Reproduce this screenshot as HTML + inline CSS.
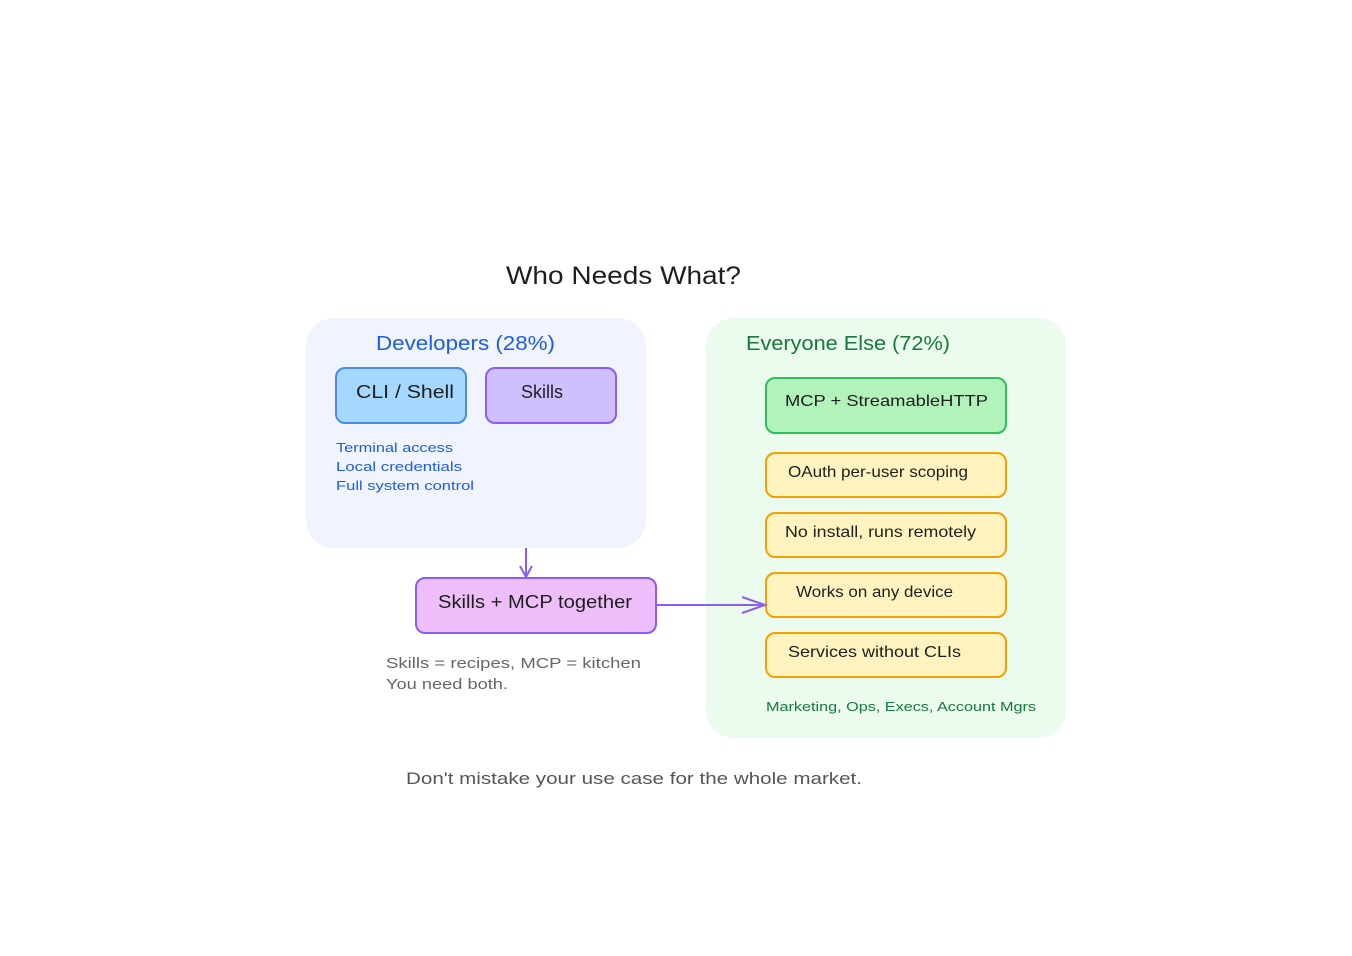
<!DOCTYPE html>
<html><head><meta charset="utf-8"><style>
html,body{margin:0;padding:0;background:#fff}
svg{display:block}
text{font-family:"Liberation Sans",sans-serif}
</style></head><body>
<svg width="1352" height="956" viewBox="0 0 1352 956" xmlns="http://www.w3.org/2000/svg">
<rect width="1352" height="956" fill="#fff"/>
<text x="506" y="284" font-size="25" fill="#1e1e1e" textLength="235" lengthAdjust="spacingAndGlyphs">Who Needs What?</text>

<rect x="306" y="318" width="340" height="230" rx="28" fill="#eff4fe"/>
<text x="376" y="350" font-size="20" fill="#1e5be6" textLength="179" lengthAdjust="spacingAndGlyphs">Developers (28%)</text>
<rect x="336" y="368" width="130" height="55" rx="9" fill="#a5d8ff" stroke="#4a8be8" stroke-width="2"/>
<text x="356" y="398" font-size="18" fill="#1e1e1e" textLength="98" lengthAdjust="spacingAndGlyphs">CLI / Shell</text>
<rect x="486" y="368" width="130" height="55" rx="9" fill="#d0bfff" stroke="#8b5cf6" stroke-width="2"/>
<text x="521" y="398" font-size="18" fill="#1e1e1e" textLength="42" lengthAdjust="spacingAndGlyphs">Skills</text>
<g font-size="13" fill="#1e5be6">
<text x="336" y="452" textLength="117" lengthAdjust="spacingAndGlyphs">Terminal access</text>
<text x="336" y="471" textLength="126" lengthAdjust="spacingAndGlyphs">Local credentials</text>
<text x="336" y="490" textLength="138" lengthAdjust="spacingAndGlyphs">Full system control</text>
</g>

<rect x="706" y="318" width="360" height="420" rx="28" fill="#ebfbee"/>
<text x="746" y="350" font-size="20" fill="#157a3a" textLength="204" lengthAdjust="spacingAndGlyphs">Everyone Else (72%)</text>
<rect x="766" y="378" width="240" height="55" rx="9" fill="#b2f2bb" stroke="#2fbf5b" stroke-width="2"/>
<text x="785" y="406" font-size="16" fill="#1e1e1e" textLength="203" lengthAdjust="spacingAndGlyphs">MCP + StreamableHTTP</text>
<g fill="#fff3bf" stroke="#f59f00" stroke-width="2">
<rect x="766" y="453" width="240" height="44" rx="9"/>
<rect x="766" y="513" width="240" height="44" rx="9"/>
<rect x="766" y="573" width="240" height="44" rx="9"/>
<rect x="766" y="633" width="240" height="44" rx="9"/>
</g>
<g font-size="16" fill="#1e1e1e">
<text x="788" y="477" textLength="180" lengthAdjust="spacingAndGlyphs">OAuth per-user scoping</text>
<text x="785" y="537" textLength="191" lengthAdjust="spacingAndGlyphs">No install, runs remotely</text>
<text x="796" y="597" textLength="157" lengthAdjust="spacingAndGlyphs">Works on any device</text>
<text x="788" y="657" textLength="173" lengthAdjust="spacingAndGlyphs">Services without CLIs</text>
</g>
<text x="766" y="711" font-size="13" fill="#157a3a" textLength="270" lengthAdjust="spacingAndGlyphs">Marketing, Ops, Execs, Account Mgrs</text>

<line x1="526" y1="548" x2="526" y2="576" stroke="#8b5cf6" stroke-width="2"/>
<path d="M520 566 L526 577 L532 566" fill="none" stroke="#8b5cf6" stroke-width="2"/>
<rect x="416" y="578" width="240" height="55" rx="9" fill="#eebefa" stroke="#8b5cf6" stroke-width="2"/>
<text x="438" y="608" font-size="18" fill="#1e1e1e" textLength="194" lengthAdjust="spacingAndGlyphs">Skills + MCP together</text>
<line x1="657" y1="605" x2="764" y2="605" stroke="#8b5cf6" stroke-width="2"/>
<path d="M742 597 L765 605 L742 613" fill="none" stroke="#8b5cf6" stroke-width="2"/>
<g font-size="15" fill="#666">
<text x="386" y="668" textLength="255" lengthAdjust="spacingAndGlyphs">Skills = recipes, MCP = kitchen</text>
<text x="386" y="689" textLength="122" lengthAdjust="spacingAndGlyphs">You need both.</text>
</g>

<text x="406" y="784" font-size="17" fill="#555" textLength="456" lengthAdjust="spacingAndGlyphs">Don't mistake your use case for the whole market.</text>
</svg>
</body></html>
